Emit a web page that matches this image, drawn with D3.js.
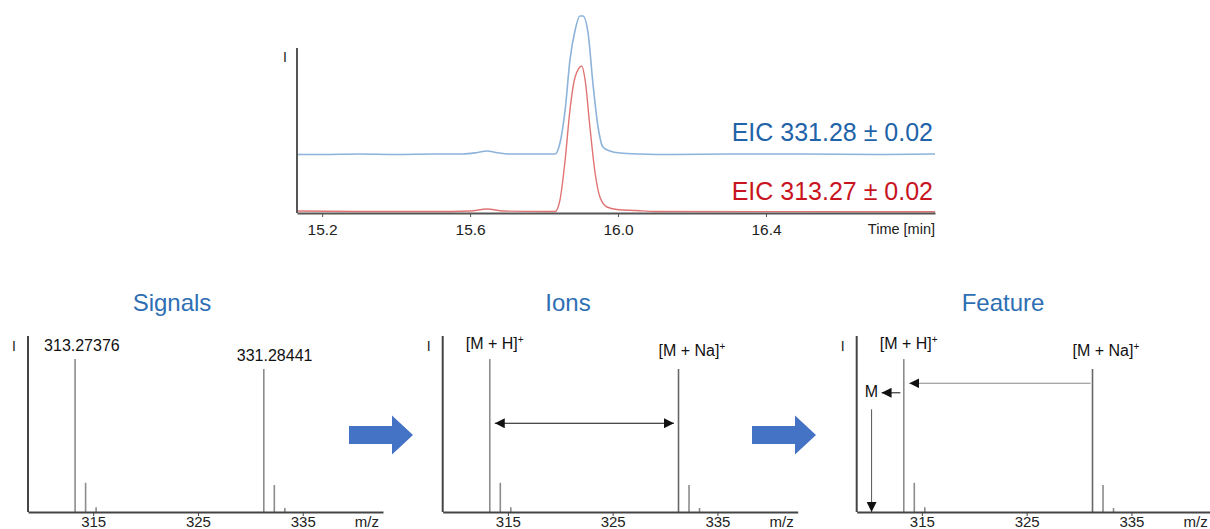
<!DOCTYPE html>
<html>
<head>
<meta charset="utf-8">
<script src="https://cdn.jsdelivr.net/npm/d3@7"></script>
<style>
  body { margin: 0; background: #fff; }
  svg { display: block; font-family: "Liberation Sans", Arial, sans-serif; }
</style>
</head>
<body>
<div id="chart"></div>
<script>
// chromatogram (EIC)
var eicTime = [15.132, 15.2, 15.3, 15.4, 15.5, 15.58, 15.62, 15.646, 15.67, 15.71, 15.78, 15.83,
    15.843, 15.857, 15.870, 15.884, 15.897, 15.905, 15.919, 15.932, 15.946, 15.959, 15.978,
    16.005, 16.059, 16.15, 16.3, 16.5, 16.7, 16.857];
var eicBlue = [57.5, 57.5, 58, 57.5, 58, 58, 59.5, 61, 59.5, 58, 58, 58,
    69, 102, 152, 182, 196, 196, 179, 129, 85, 65, 61,
    59, 58, 57.5, 58, 58, 57.5, 58];
var redTime = [15.132, 15.3, 15.5, 15.6, 15.646, 15.69, 15.8, 15.83, 15.843, 15.857, 15.870,
    15.884, 15.902, 15.911, 15.924, 15.938, 15.951, 15.970, 15.997, 16.05, 16.1, 16.857];
var eicRed = [1, 0.5, 0.5, 1, 3, 1, 0.5, 0.5, 12, 52, 102,
    135, 146, 132, 85, 39, 15, 5, 2.5, 1.5, 0.5, 0.3];
var timeTicks = [15.2, 15.6, 16.0, 16.4];
var eicLabels = ['EIC 331.28 \u00b1 0.02', 'EIC 313.27 \u00b1 0.02'];

// mass spectrum peaks
var peakMz = [313.27376, 314.277, 315.28, 331.28441, 332.288, 333.29];
var peakInt = [87.9, 16.8, 2.7, 82.2, 15.5, 2.3];
var mzTicks = [315, 325, 335];
var panelTitles = ['Signals', 'Ions', 'Feature'];
var signalLabels = ['313.27376', '331.28441'];
var ionLabels = ['[M + H]', '[M + Na]'];
var massM = 310.2;

var W = 1210, H = 529;
var svg = d3.select('#chart').append('svg').attr('width', W).attr('height', H);

// ---------- top chart ----------
var tp = {left: 297, right: 935, top: 48, bottom: 213};
var xt = d3.scaleLinear().domain([15.132, 16.857]).range([tp.left, tp.right]);
var yt = d3.scaleLinear().domain([0, 164]).range([212, tp.top]);

var line = d3.line().x(function(d) { return xt(d[0]); }).y(function(d) { return yt(d[1]); })
    .curve(d3.curveMonotoneX);

svg.append('path')
    .datum(d3.zip(eicTime, eicBlue))
    .attr('d', line)
    .attr('fill', 'none')
    .attr('stroke', '#8db3da')
    .attr('stroke-width', 1.6);

svg.append('path')
    .datum(d3.zip(redTime, eicRed))
    .attr('d', line)
    .attr('fill', 'none')
    .attr('stroke', '#e07474')
    .attr('stroke-width', 1.4);

var gx = svg.append('g')
    .attr('transform', 'translate(0,' + tp.bottom + ')')
    .call(d3.axisBottom(xt).tickValues(timeTicks).tickFormat(d3.format('.1f')).tickSize(4).tickSizeOuter(0).tickPadding(7));
gx.select('.domain').attr('stroke', '#555').attr('stroke-width', 2);
gx.selectAll('.tick line').attr('stroke', '#555');
gx.selectAll('text').style('font-size', '15.5px').attr('fill', '#222');

svg.append('line')
    .attr('x1', tp.left).attr('x2', tp.left)
    .attr('y1', tp.bottom).attr('y2', tp.top)
    .attr('stroke', '#555').attr('stroke-width', 2);

svg.append('text').attr('x', tp.left - 14).attr('y', 62).text('I')
    .style('font-size', '14px').attr('fill', '#222');
svg.append('text').attr('x', tp.right).attr('y', 234).attr('text-anchor', 'end')
    .text('Time [min]').style('font-size', '14.5px').attr('fill', '#222');

svg.append('text').attr('x', 933).attr('y', 141).attr('text-anchor', 'end')
    .text(eicLabels[0]).style('font-size', '25px').attr('fill', '#1f63a8');
svg.append('text').attr('x', 933).attr('y', 200).attr('text-anchor', 'end')
    .text(eicLabels[1]).style('font-size', '25px').attr('fill', '#c8141e');

// ---------- arrow markers ----------
var defs = svg.append('defs');
defs.append('marker').attr('id', 'head')
    .attr('viewBox', '0 0 10 10').attr('refX', 10).attr('refY', 5)
    .attr('markerWidth', 10).attr('markerHeight', 10).attr('markerUnits', 'userSpaceOnUse')
    .attr('orient', 'auto-start-reverse')
    .append('path').attr('d', 'M0,0 L10,5 L0,10 Z').attr('fill', '#111');

// ---------- bottom spectra ----------
var panelX = [28, 442.7, 856.7];
var panelTitleX = [172, 568, 1003];
var pw = 355, pTop = 338, pBottom = 512;
var y = d3.scaleLinear().domain([0, 100]).range([pBottom, pTop]);

panelX.forEach(function(x0, i) {
    var x = d3.scaleLinear().domain([308.78, 342.66]).range([x0, x0 + pw]);
    var g = svg.append('g');

    svg.append('text').attr('x', panelTitleX[i]).attr('y', 311).attr('text-anchor', 'middle')
        .text(panelTitles[i]).style('font-size', '24px').attr('fill', '#2e6fb4');

    g.selectAll('.peak')
        .data(d3.zip(peakMz, peakInt))
        .enter().append('line')
        .attr('x1', function(d) { return x(d[0]); })
        .attr('x2', function(d) { return x(d[0]); })
        .attr('y1', y(0))
        .attr('y2', function(d) { return y(d[1]); })
        .attr('stroke', function(d, j) { return (i > 0 && j == 3) ? '#666' : '#8c8c8c'; })
        .attr('stroke-width', 1.6);

    var ax = g.append('g')
        .attr('transform', 'translate(0,' + pBottom + ')')
        .call(d3.axisBottom(x).tickValues(mzTicks).tickSize(4).tickSizeOuter(0).tickPadding(0));
    ax.select('.domain').attr('stroke', '#444').attr('stroke-width', 2);
    ax.selectAll('.tick line').attr('stroke', '#444');
    ax.selectAll('text').style('font-size', '15px').attr('fill', '#222');

    g.append('line')
        .attr('x1', x0).attr('x2', x0).attr('y1', pBottom).attr('y2', pTop - 2)
        .attr('stroke', '#444').attr('stroke-width', 2);

    g.append('text').attr('x', x0 - 16).attr('y', 351).text('I')
        .style('font-size', '14px').attr('fill', '#222');
    g.append('text').attr('x', x0 + 351).attr('y', 527).attr('text-anchor', 'end')
        .text('m/z').style('font-size', '15px').attr('fill', '#222');

    if (i == 0) {
        g.append('text').attr('x', x(peakMz[0]) - 31).attr('y', 351)
            .text(signalLabels[0]).style('font-size', '16px').attr('fill', '#111');
        g.append('text').attr('x', x(peakMz[3]) - 27).attr('y', 361)
            .text(signalLabels[1]).style('font-size', '16px').attr('fill', '#111');
    } else {
        [[0, 349], [3, 356]].forEach(function(p, k) {
            var t = g.append('text').attr('x', x(peakMz[p[0]]) - (k == 0 ? 24 : 20)).attr('y', p[1])
                .style('font-size', '16px').attr('fill', '#111');
            t.append('tspan').text(ionLabels[k]);
            t.append('tspan').text('+').attr('dy', -6).style('font-size', '10px');
        });
    }

    if (i == 1) {
        g.append('line')
            .attr('x1', x(313.75)).attr('x2', x(330.85))
            .attr('y1', y(51)).attr('y2', y(51))
            .attr('stroke', '#111').attr('stroke-width', 1)
            .attr('marker-start', 'url(#head)').attr('marker-end', 'url(#head)');
    }

    if (i == 2) {
        g.append('line')
            .attr('x1', x(331.1)).attr('x2', x(313.8))
            .attr('y1', y(74)).attr('y2', y(74))
            .attr('stroke', '#888').attr('stroke-width', 1.2)
            .attr('marker-end', 'url(#head)');
        g.append('line')
            .attr('x1', x(312.95)).attr('x2', x(311.15))
            .attr('y1', y(68.5)).attr('y2', y(68.5))
            .attr('stroke', '#111').attr('stroke-width', 1)
            .attr('marker-end', 'url(#head)');
        g.append('text').attr('x', x(309.55)).attr('y', 397)
            .text('M').style('font-size', '16px').attr('fill', '#111');
        g.append('line')
            .attr('x1', x(massM)).attr('x2', x(massM))
            .attr('y1', y(59)).attr('y2', y(0))
            .attr('stroke', '#555').attr('stroke-width', 1)
            .attr('marker-end', 'url(#head)');
    }
});

// ---------- block arrows between panels ----------
var blockArrow = function(x0) {
    var cy = 435;
    var p = d3.path();
    p.moveTo(x0, cy - 9);
    p.lineTo(x0 + 43, cy - 9);
    p.lineTo(x0 + 43, cy - 19.5);
    p.lineTo(x0 + 64, cy);
    p.lineTo(x0 + 43, cy + 19.5);
    p.lineTo(x0 + 43, cy + 9);
    p.lineTo(x0, cy + 9);
    p.closePath();
    svg.append('path').attr('d', p.toString()).attr('fill', '#4472c4');
};
blockArrow(349);
blockArrow(752);
</script>
</body>
</html>
